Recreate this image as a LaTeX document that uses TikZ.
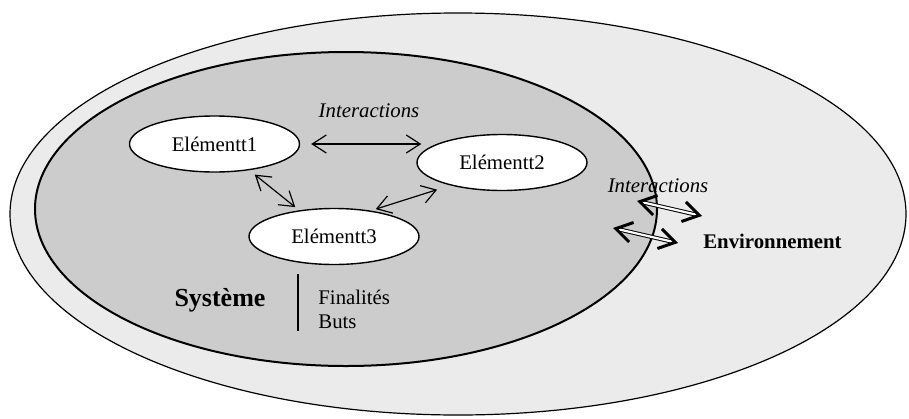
\documentclass[tikz,border=0pt]{standalone}
\usepackage{fontspec}
\setmainfont{Liberation Serif}
\usetikzlibrary{shapes.geometric,arrows.meta}
\begin{document}
\begin{tikzpicture}
[   x=0.5pt,y=-0.5pt,
    enode/.style={draw=black,fill=white,ellipse,line width=0.7pt,minimum width=85pt,minimum height=28pt,inner sep=0pt,font=\fontsize{10.4}{12}\selectfont},
    lbl/.style={font=\fontsize{10.4}{12}\selectfont},
    arr/.style={line width=0.6pt,{Straight Barb[length=7pt,width=9pt]}-{Straight Barb[length=7pt,width=9pt]}},
    darr/.style={double,double distance=1.1pt,line width=0.5pt,{Straight Barb[length=8pt,width=10pt,line width=1.5pt]}-{Straight Barb[length=8pt,width=10pt,line width=1.5pt]}},
]
    \useasboundingbox (0,0) rectangle (909,418);
    %
    \draw[fill=black!8,line width=0.6pt] (458,214) ellipse [x radius=448,y radius=201];
    \draw[fill=black!20,line width=1pt] (346,209) ellipse [x radius=311,y radius=157];

    \node[enode] (e1) at (214.5,144) {Elémentt1};
    \node[enode] (e2) at (502,162.5) {Elémentt2};
    \node[enode] (e3) at (334,236.5) {Elémentt3};

    \node[lbl,font=\fontsize{10.4}{12}\selectfont\itshape] (inter1) at (369,111) {Interactions};
    \draw[arr] ([xshift=5.5pt]e1.east) -- ([xshift=2.5pt]e1.east -| e2.west);
    \draw[arr,shorten <=3.5pt,shorten >=2.5pt] (e1.-37) -- (e3.143);
    \draw[arr,shorten <=2.5pt,shorten >=7pt] (e3.35) -- (e2.204);

    % systeme / environnement
    \node[lbl,font=\fontsize{10.4}{12}\selectfont\itshape] (inter2) at (658,186) {Interactions};
    \node[lbl,font=\fontsize{10.4}{12}\selectfont\bfseries] (env) at (772.5,241) {Environnement};
    \coordinate (sa) at (637,201);
    \coordinate (ea) at (702,216);
    \coordinate (sb) at (613,228);
    \coordinate (eb) at (678,243);
    \draw[darr] (sa) -- (ea);
    \draw[darr] (sb) -- (eb);

    \node[font=\fontsize{13}{15}\selectfont\bfseries] (sys) at (220,300) {Système};
    \node[lbl,anchor=west,inner sep=0pt] (fin) at (318,297) {Finalités};
    \node[lbl,anchor=west,inner sep=0pt] (buts) at (318,322) {Buts};
    \coordinate (septop) at (298,274);
    \coordinate (sepbot) at (298,331);
    \draw[line width=0.8pt] (septop) -- (sepbot);
\end{tikzpicture}
\end{document}
